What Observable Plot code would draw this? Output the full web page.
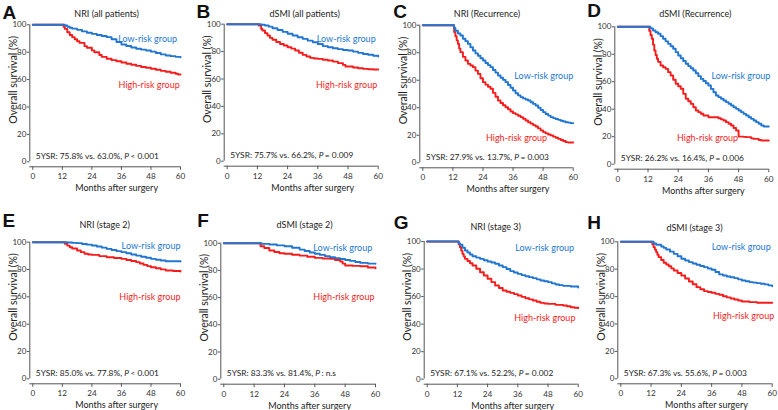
<!DOCTYPE html>
<html><head><meta charset="utf-8">
<script src="https://cdn.jsdelivr.net/npm/d3@7"></script>
<script src="https://cdn.jsdelivr.net/npm/@observablehq/plot@0.6"></script>
<style>
html,body{margin:0;padding:0;background:#fff;}
#wrap{position:relative;width:778px;height:410px;overflow:hidden;}
.panel{position:absolute;}
</style></head>
<body><div id="wrap"></div>
<script>
// ---------- data ----------
const xTicks = [0, 12, 24, 36, 48, 60];
const yTicks = [0, 20, 40, 60, 80, 100];
const panelLetters = ["A","B","C","D","E","F","G","H"];
const panelTitles = ["NRI (all patients)","dSMI (all patients)","NRI (Recurrence)","dSMI (Recurrence)",
                     "NRI (stage 2)","dSMI (stage 2)","NRI (stage 3)","dSMI (stage 3)"];
const fiveYearLow  = ["75.8%","75.7%","27.9%","26.2%","85.0%","83.3%","67.1%","67.3%"];
const fiveYearHigh = ["63.0%","66.2%","13.7%","16.4%","77.8%","81.4%","52.2%","55.6%"];
const pValues = ["< 0.001","= 0.009","= 0.003","= 0.006","< 0.001",": n.s","= 0.002","= 0.003"];
const groupNames = ["Low-risk group","High-risk group"];
const xLabel = "Months after surgery";
const yLabel = "Overall survival (%)";

// survival curves: [month, survival %]
const A_low = [[0,100],[12,100],[13,99.5],[14,98.6],[15,97.8],[16,97.2],[18,96.3],[20,95.2],[22,94.2],[24,93.4],[26,92.6],[28,91.8],[30,91],[32,89.5],[34,87.4],[36,85.6],[38,84.5],[40,83.4],[42,82.5],[44,81.9],[46,81.2],[48,80.4],[50,79.4],[52,78.4],[54,77.6],[56,77.1],[58,76.6],[60,76.2]];
const A_high = [[0,100],[12,100],[12.5,98.5],[13,97],[14,94.6],[15,92.6],[16,91],[17,89.5],[18,88],[19,86.8],[21,84.4],[22,83.2],[24,81.3],[25,80],[27,78],[28,76.6],[30,75.2],[32,74.2],[34,73.4],[36,72.5],[38,71.6],[40,70.8],[42,70],[44,69.2],[46,68.6],[48,67.9],[50,67.2],[52,66.4],[54,65.7],[56,65],[58,64.3],[59,63.7],[60,63.7]];
const B_low = [[0,100],[12,100],[13.5,99.6],[15,99],[16.5,98.2],[18,97],[20,95.8],[22,94.4],[24,93],[26,91.8],[28,90.5],[30,89.3],[32,88],[34,86.8],[36,85.6],[38,84],[40,83.2],[42,82.5],[44,81.8],[46,81.2],[48,80.8],[50,80],[52,79.1],[54,78.3],[56,77.7],[58,77],[60,76.4]];
const B_high = [[0,100],[12,100],[12.5,99],[13.5,96.5],[14,95.4],[15,93.5],[16,91.7],[17,90],[18,88.6],[19.5,87],[21,85.6],[22.5,84.4],[24,83.2],[25.5,82.2],[27,80.8],[28.5,79.2],[30,77.6],[31.5,76.4],[33,75.4],[34.5,75],[36,74.7],[38,74],[40,73.5],[42,72.7],[44,71.6],[46,70.3],[47,69.1],[48,69.1],[50,68.4],[52,67.9],[54,67.4],[56,67.1],[58,66.9],[60,66.9]];
const C_low = [[0,100],[12,100],[12.5,98],[13,96],[14,94],[15,92.5],[16,90.2],[17,88.4],[18,86.4],[19,84],[20,81.6],[21,79.5],[22,77.8],[23,76],[24,74.3],[25,72.5],[26,71],[27,69.5],[28,67.4],[29,65.5],[30,63.4],[31,61.8],[32,60.3],[33,58.6],[34,56.5],[35,54.5],[36,52.5],[37,50.5],[38,49],[39,47.7],[40,46.8],[41,46],[42,45.3],[43,44],[44,42.8],[45,41.6],[46,40],[47,38.4],[48,36.8],[49,35.5],[50,34.3],[51,33.2],[52,32.5],[53,31.8],[54,31.2],[55,30.6],[56,30],[57,29.5],[58,29.2],[59,28.8],[60,28.8]];
const C_high = [[0,100],[12,100],[12.5,95],[13,92],[13.5,89],[14,86.4],[14.5,83],[15,80.4],[16,77],[17,74.3],[18,71.9],[19,70.7],[20,69.5],[21,67],[22,64.6],[23,61.5],[24,58.6],[25,56.8],[26,55.3],[27,53.8],[28,50.8],[29,48],[30,45.3],[31,43.5],[32,41.8],[33,40.4],[34,38.9],[35,37.3],[36,36.1],[37,35.2],[38,34.2],[39,33.2],[40,32],[41,30.7],[42,29.5],[43,28.5],[44,27.4],[45,26.4],[46,25],[47,23.6],[48,22.3],[49,21.4],[50,20.6],[51,19.9],[52,19],[53,18.2],[54,17.4],[55,16.6],[56,15.8],[57,15],[58,14.8],[60,14.8]];
const D_low = [[0,100],[12,100],[13,98.8],[14,97.3],[15,96],[16,94.9],[17,93.2],[18,91.3],[19,89.4],[20,87.6],[21,85.8],[22,84],[23,81.6],[24,79.1],[25,77.1],[26,75.1],[27,73.1],[28,71.4],[29,69.8],[30,68.2],[31,66.2],[32,64.1],[33,62.1],[34,60.5],[35,58.9],[36,57.3],[37,54.8],[38,52.4],[39,50],[40,48.8],[41,47.6],[42,46.4],[43,45.2],[44,44],[45,42.7],[46,41.5],[47,40.3],[48,39.1],[49,37.9],[50,36.6],[51,35.4],[52,34.2],[53,33],[54,31.8],[55,30.6],[56,29.4],[57,28.2],[58,27.4],[60,27.4]];
const D_high = [[0,100],[12,100],[12.5,97],[13,94],[13.5,91.3],[14,87],[14.5,82.8],[15,79.5],[15.5,76.7],[16,74.5],[17,71.8],[18,70.6],[19,69.4],[20,67],[21,64.6],[22,61.5],[23,58.5],[24,56.7],[25,54.9],[26,51.2],[27,47.6],[28,45.8],[29,43.9],[30,41.5],[31,39.1],[32,37.9],[33,36.7],[34,35.4],[36,34.2],[39,34.2],[40,33.4],[41,32.6],[42,31.8],[43,30.6],[44,29.4],[45,28.2],[46,26.4],[47,24.5],[48,20.1],[50,19.9],[51,19.7],[53,18.8],[54,18.4],[56,17.6],[57,17.2],[60,17.2]];
const E_low = [[0,100],[13,100],[14,99.8],[16,99.5],[18,99.3],[20,98.7],[22,98.2],[24,97.6],[26,96.8],[28,96],[30,95.1],[32,94.3],[34,93.5],[36,92.7],[38,91.9],[40,91],[42,90.2],[44,89.4],[46,88.6],[48,87.8],[50,87.2],[52,86.6],[54,86.1],[56,86],[60,85.9]];
const E_high = [[0,100],[12.5,100],[13,98.8],[14,97.5],[15,96.3],[16,95.4],[18,93.9],[19.5,92.7],[21,91.5],[22.5,91],[24,90.7],[27,89.8],[30,89],[33,88.4],[36,87.8],[38,87],[40,86.2],[42,85.4],[43.5,84.4],[45,83.4],[46.5,82.5],[48,81.7],[50,80.9],[52,80.1],[54,79.3],[57,78.9],[60,78.5]];
const F_low = [[0,100],[14,100],[15,99.5],[18,99],[21,98.4],[24,97.8],[27,96.6],[30,95.3],[32,94.3],[34,93.2],[36,92.2],[38,91.4],[40,90.5],[42,89.7],[44,89],[46,88.4],[48,87.7],[50,87],[52,86.2],[54,85.5],[57,85],[60,84.8]];
const F_high = [[0,100],[14,100],[14.5,97.8],[16,96.5],[18,94.6],[20,93.5],[22,92.6],[24,92.2],[27,91.5],[30,90.9],[33,90],[36,89.2],[39,88.8],[42,88.5],[44,87.6],[46,86.5],[47,85],[48,83.6],[51,83.3],[54,83.1],[57,82.1],[60,81.6]];
const G_low = [[0,100],[12,100],[12.5,98.8],[13,97.6],[14,95.5],[15,93.5],[16,92],[17,90.6],[18,89.3],[19.5,88.3],[21,87.4],[22.5,86.4],[24,85.5],[25.5,84.8],[27,83.8],[28.5,82.6],[30,81.4],[31.5,80],[33,78.5],[34.5,77.5],[36,76.5],[37.5,75.6],[39,74.8],[40.5,74.1],[42,73.4],[43.5,72.5],[45,71.7],[46.5,71.1],[48,70.5],[49.5,69.6],[51,68.8],[52.5,68.3],[54,67.8],[57,67.3],[60,66.6]];
const G_high = [[0,100],[12,100],[12.5,98],[13,95.9],[13.5,93.4],[14,91],[14.5,89.2],[15,87.4],[16,85.8],[17,84.2],[18,82.6],[19.5,80.2],[21,77.7],[22.5,75.3],[24,72.9],[25.5,70.5],[27,68],[28.5,66.2],[30,64.4],[31.5,63.5],[33,62.7],[34.5,61.8],[36,60.8],[37.5,59.8],[39,58.8],[40.5,58],[42,57.1],[43.5,56.2],[45,55.4],[46.5,55],[48,54.7],[51,54],[54,53.5],[55.5,53],[57,52.3],[58.5,51.9],[60,51.6]];
const H_low = [[0,100],[12,100],[13,98.8],[14,97.8],[16,96.6],[17,95.6],[18,94.4],[19.5,92.8],[21,91.2],[22.5,89.4],[24,87.6],[25.5,86.4],[27,85.2],[28.5,84.2],[30,83.2],[31.5,82.3],[33,81.5],[34.5,80.5],[36,79.6],[37.5,78],[39,76.2],[40.5,75.4],[42,74.7],[43.5,74.1],[45,73.5],[46.5,72.6],[48,71.8],[49.5,71.2],[51,70.6],[52.5,70.2],[54,69.8],[55.5,69.4],[57,68.9],[58.5,68.2],[60,67.6]];
const H_high = [[0,100],[12,100],[12.5,98.2],[13,96.1],[13.5,94.3],[14,92.5],[14.5,90.6],[15,88.8],[16,86.7],[17,84.7],[18,83.4],[19,82.2],[20,80.6],[21,79.1],[22.5,77.2],[24,75.4],[25.5,73.2],[27,71],[28.5,69],[30,66.9],[31.5,65.4],[33,64],[34.5,63.4],[36,62.8],[37.5,62],[39,61.3],[40.5,60.3],[42,59.4],[43.5,58.6],[45,57.9],[46.5,57.1],[48,56.4],[51,56],[54,55.5],[60,55.5]];

const lowSeries  = [A_low, B_low, C_low, D_low, E_low, F_low, G_low, H_low];
const highSeries = [A_high, B_high, C_high, D_high, E_high, F_high, G_high, H_high];

// ---------- layout (pixels / placement only) ----------
const layout = [
  {left:0,   top:0,   w:195, mL:32.3, mR:15,   mT:24.3, mB:43.7, let:[-30.3,-11.8], tit:[0,-10.3],  lowLab:[58.6,89.8], highLab:[59.7,55.7]},
  {left:195, top:0,   w:195, mL:31.7, mR:12.3, mT:23.7, mB:44.3, let:[-30.7,-12.2], tit:[2,-9.7],   lowLab:[59.0,89.3], highLab:[59.6,55.2]},
  {left:390, top:0,   w:195, mL:32.3, mR:12.3, mT:24.7, mB:42.7, let:[-29.6,-13],   tit:[-11,-10.7],lowLab:[60.0,62.7], highLab:[49.6,18.2]},
  {left:585, top:0,   w:193, mL:32.3, mR:9.7,  mT:26.3, mB:41.3, let:[-30.6,-16.3], tit:[2,-13],    lowLab:[60.6,63.8], highLab:[47.8,19.2]},
  {left:0,   top:205, w:195, mL:32.3, mR:15,   mT:36.7, mB:31.7, let:[-30.3,-21.7], tit:[-2,-16.7], lowLab:[60.0,96.8], highLab:[60.0,59.8]},
  {left:195, top:205, w:195, mL:28.3, mR:15,   mT:37.7, mB:31.3, let:[-26.6,-22.7], tit:[5,-17.7],  lowLab:[58.7,96.6], highLab:[59.6,60.3]},
  {left:390, top:205, w:195, mL:36.7, mR:7.3,  mT:36,   mB:31.3, let:[-33.4,-19],   tit:[-7,-14.3], lowLab:[58.4,95.2], highLab:[58.9,44.6]},
  {left:585, top:205, w:193, mL:35.3, mR:6.3,  mT:36.3, mB:31.7, let:[-33.6,-19.3], tit:[-2,-13.6], lowLab:[59.4,96.1], highLab:[60.8,45.7]}
];

const BLUE = "#2176d2", RED = "#f61c1c", AXIS = "#555", TXT = "#333";
const FONT = "Lato, 'Open Sans', sans-serif";
const wrap = document.getElementById("wrap");

layout.forEach((p, i) => {
  const annot = `5YSR: ${fiveYearLow[i]} vs. ${fiveYearHigh[i]}, P${pValues[i]}`;
  const chart = Plot.plot({
    width: p.w, height: 205,
    marginLeft: p.mL, marginRight: p.mR, marginTop: p.mT, marginBottom: p.mB,
    style: {fontFamily: FONT, color: TXT, background: "transparent", overflow: "visible"},
    x: {domain: [0, 60], axis: null},
    y: {domain: [0, 100], axis: null},
    marks: [
      // x axis (offset below the plot)
      Plot.ruleY([0], {dy: 5, insetLeft: -3, stroke: AXIS}),
      Plot.ruleX(xTicks, {x: d => d, y1: 0, y2: 0, insetTop: 5, insetBottom: -8.5, stroke: AXIS}),
      Plot.text(xTicks, {x: d => d, frameAnchor: "bottom", text: d => String(d), dy: 15, lineAnchor: "middle", textAnchor: "middle", fontSize: 8.2, fill: TXT}),
      // y axis (offset left of the plot)
      Plot.ruleX([0], {dx: -3, stroke: AXIS}),
      Plot.ruleY(yTicks, {y: d => d, x1: 0, x2: 0, insetLeft: -5.5, insetRight: 3, stroke: AXIS}),
      Plot.text(yTicks, {y: d => d, frameAnchor: "left", text: d => String(d), dx: -6.5, textAnchor: "end", lineAnchor: "middle", fontSize: 8, fill: TXT}),
      // curves
      Plot.line(highSeries[i], {x: d => d[0], y: d => d[1], curve: "step-after", stroke: RED, strokeWidth: 1.9}),
      Plot.line(lowSeries[i], {x: d => d[0], y: d => d[1], curve: "step-after", stroke: BLUE, strokeWidth: 1.9}),
      // group labels
      Plot.text([groupNames[0]], {x: () => p.lowLab[0], y: () => p.lowLab[1], text: d => d, textAnchor: "end", fill: BLUE, fontSize: 9}),
      Plot.text([groupNames[1]], {x: () => p.highLab[0], y: () => p.highLab[1], text: d => d, textAnchor: "end", fill: RED, fontSize: 9}),
      // titles & labels
      Plot.text([panelTitles[i]], {frameAnchor: "top", dx: p.tit[0], dy: p.tit[1], textAnchor: "middle", lineAnchor: "middle", fontSize: 9, fill: "#222"}),
      Plot.text([panelLetters[i]], {frameAnchor: "top-left", dx: p.let[0], dy: p.let[1], textAnchor: "start", lineAnchor: "middle", fontSize: 19, fontWeight: "bold", fill: "#111", fontFamily: "Liberation Sans, Arial, sans-serif"}),
      Plot.text([annot], {frameAnchor: "bottom-left", dx: 3, dy: -6, textAnchor: "start", lineAnchor: "middle", fontSize: 8.4, fill: "#222"}),
      Plot.text([xLabel], {frameAnchor: "bottom", dx: 10, dy: 26.5, textAnchor: "middle", lineAnchor: "middle", fontSize: 9, fill: "#222"}),
      Plot.text([yLabel], {frameAnchor: "left", rotate: -90, dx: -19.5, dy: -13.5, textAnchor: "middle", lineAnchor: "middle", fontSize: 10.5, fill: "#222"})
    ]
  });
  // italic "P" in the 5YSR annotation
  chart.querySelectorAll("text").forEach(t => {
    if (t.textContent === annot) {
      t.textContent = "";
      const ns = "http://www.w3.org/2000/svg";
      const a = document.createElementNS(ns, "tspan"); a.textContent = `5YSR: ${fiveYearLow[i]} vs. ${fiveYearHigh[i]}, `;
      const b = document.createElementNS(ns, "tspan"); b.textContent = "P"; b.setAttribute("font-style", "italic");
      const c = document.createElementNS(ns, "tspan"); c.textContent = pValues[i]; c.setAttribute("dx", "1.5");
      t.append(a, b, c);
    }
  });
  const div = document.createElement("div");
  div.className = "panel";
  div.style.left = p.left + "px";
  div.style.top = p.top + "px";
  div.appendChild(chart);
  wrap.appendChild(div);
});
</script>
</body></html>
